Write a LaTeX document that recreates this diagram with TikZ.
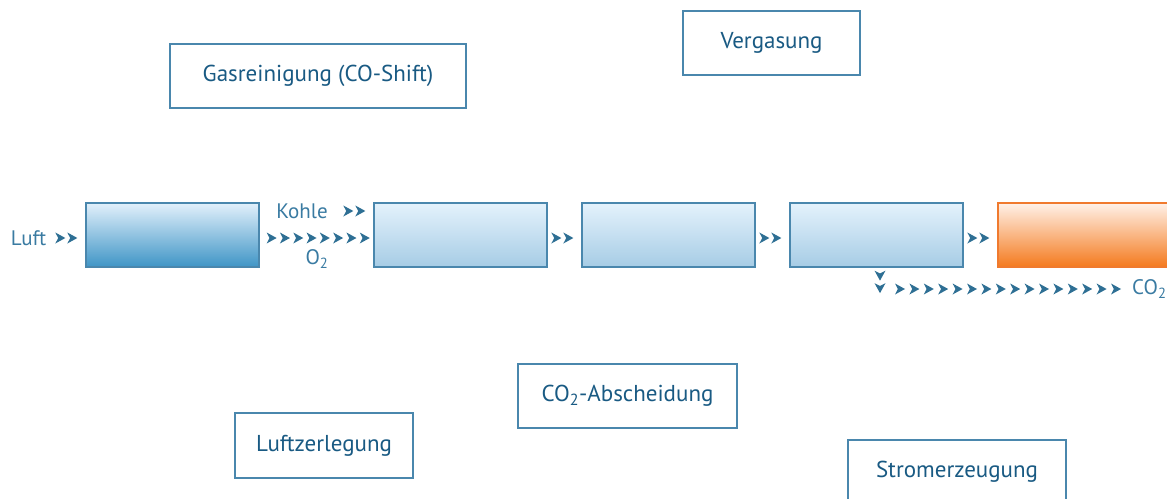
\documentclass[tikz,border=0pt]{standalone}
\usepackage{fontspec}
\setmainfont{PT Sans}
\usetikzlibrary{decorations.markings,calc}
\definecolor{titletxt}{HTML}{195A83}
\definecolor{labeltxt}{HTML}{3A7BA2}
\definecolor{framec}{HTML}{4A87AD}
\definecolor{chevc}{HTML}{2E6F94}
\definecolor{orangeline}{HTML}{F07A2E}
\definecolor{bonetop}{HTML}{E2F0FB}
\definecolor{bonebot}{HTML}{3F95C6}
\definecolor{btop}{HTML}{E4F2FC}
\definecolor{bbot}{HTML}{A6CCE5}
\definecolor{otop}{HTML}{FFF1E8}
\definecolor{omid}{HTML}{FDD2B2}
\definecolor{obot}{HTML}{F47A1E}
\newcommand{\chevmark}{\fill[chevc] (-5pt,-5.5pt) -- (5pt,0pt) -- (-5pt,5.5pt) -- (-2.2pt,0pt) -- cycle;}
\tikzset{
  titlebox/.style={draw=framec, line width=1.2pt, fill=white, text=titletxt,
    font=\fontsize{23}{26}\selectfont, inner sep=0pt},
  procbox/.style={draw=framec, line width=1.3pt, minimum width=173pt, minimum height=64pt, inner sep=0pt},
  lbl/.style={text=labeltxt, font=\fontsize{21}{24}\selectfont, inner sep=2pt},
  chevpair/.style={decoration={markings,
      mark=at position -25pt with {\chevmark},
      mark=at position -13pt with {\chevmark}}, postaction={decorate}},
}
\begin{document}
\begin{tikzpicture}[x=1pt,y=-1pt]
\useasboundingbox (0,0) rectangle (1167,498);
\clip (0,0) rectangle (1167,498);
% title boxes
\node[titlebox, minimum width=296pt, minimum height=64pt] (gas) at (318,76) {Gasreinigung (CO-Shift)};
\node[titlebox, minimum width=177pt, minimum height=64pt] (verg) at (771.5,43) {Vergasung};
\node[titlebox, minimum width=219pt, minimum height=64pt] (absch) at (627.5,396) {CO\textsubscript{2}-Abscheidung};
\node[titlebox, minimum width=178pt, minimum height=65pt] (luftz) at (324,445.5) {Luftzerlegung};
\node[titlebox, minimum width=218pt, minimum height=64pt] (strom) at (957,472) {\raisebox{2pt}{Stromerzeugung}};
% process boxes
\node[procbox, top color=bonetop, bottom color=bonebot] (b1) at (172.5,235) {};
\node[procbox, top color=btop, bottom color=bbot] (b2) at (460.5,235) {};
\node[procbox, top color=btop, bottom color=bbot] (b3) at (668.5,235) {};
\node[procbox, top color=btop, bottom color=bbot] (b4) at (876.5,235) {};
\node[procbox, draw=orangeline, top color=otop, middle color=omid, bottom color=obot] (b5) at (1084.5,235) {};
% labels
\node[lbl] (luft) at (28.5,238) {Luft};
\node[lbl] (kohle) at (302,211) {Kohle};
\node[lbl] (o2) at (317,259) {O\textsubscript{2}};
\node[lbl, anchor=west] (co2) at (1130,289) {CO\textsubscript{2}};
\coordinate (turn) at (880,289);
% connectors (chevron chains)
\path[chevpair] (luft.east |- 0,238) -- ([yshift=-3pt]b1.west);
\path[chevpair] (kohle.east) -- (kohle.east -| b2.west);
\path[decoration={markings, mark=between positions 12pt and 108pt step 13.3pt with {\chevmark}}, postaction={decorate}]
  ([yshift=-3pt]b1.east) -- ([yshift=-3pt]b2.west);
\path[chevpair] ([yshift=-3pt]b2.east) -- ([yshift=-3pt]b3.west);
\path[chevpair] ([yshift=-3pt]b3.east) -- ([yshift=-3pt]b4.west);
\path[chevpair] ([yshift=-3pt]b4.east) -- ([yshift=-3pt]b5.west);
\path[decoration={markings, mark=at position 8pt with {\chevmark}, mark=at position 20.5pt with {\chevmark}}, postaction={decorate}]
  (turn |- b4.south) -- (turn);
\path[decoration={markings, mark=between positions 20pt and 237pt step 14.4pt with {\chevmark}}, postaction={decorate}]
  (turn) -- (co2.west);
\end{tikzpicture}
\end{document}
